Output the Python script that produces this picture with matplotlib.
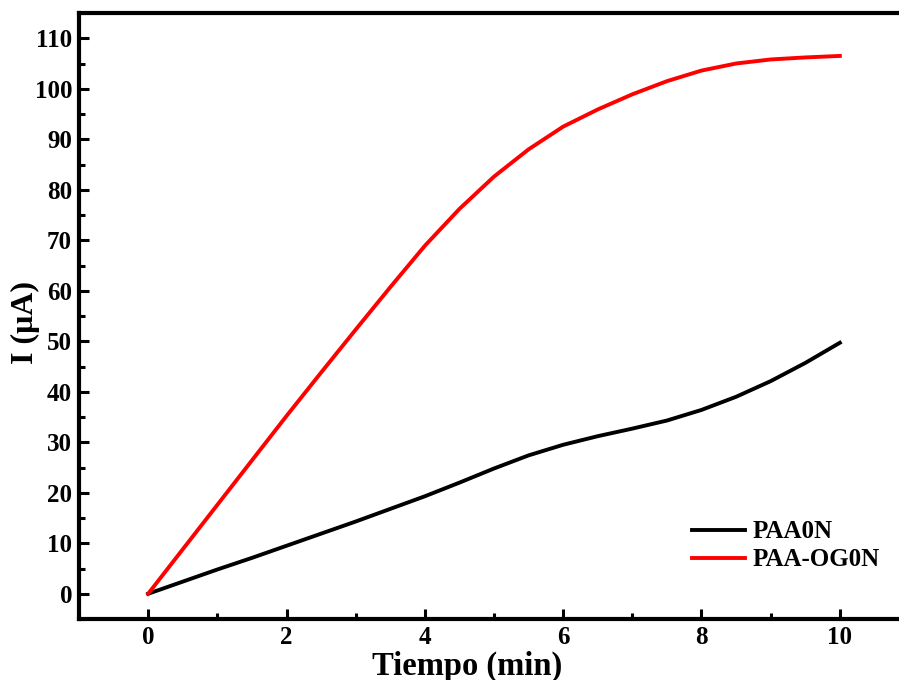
import numpy as np
import matplotlib.pyplot as plt
from matplotlib.ticker import MultipleLocator

# time (min) and current (uA) for both films
t_min = [0, 0.5, 1, 1.5, 2, 2.5, 3, 3.5, 4, 4.5, 5, 5.5, 6, 6.5, 7, 7.5, 8, 8.5, 9, 9.5, 10]
i_paa0n = [0, 2.4, 4.8, 7.1, 9.5, 11.9, 14.3, 16.8, 19.3, 22.0, 24.8, 27.4, 29.5, 31.2, 32.7, 34.3, 36.4, 39.0, 42.1, 45.7, 49.7]
i_paa_og0n = [0, 8.8, 17.6, 26.4, 35.2, 43.8, 52.3, 60.7, 68.9, 76.2, 82.6, 88.0, 92.5, 95.9, 98.9, 101.5, 103.6, 105.0, 105.8, 106.2, 106.5]

plt.rcParams['font.family'] = 'Liberation Serif'
plt.rcParams['font.weight'] = 'bold'

fig = plt.figure(figsize=(8.99, 6.80), dpi=100)
ax = fig.add_axes([79 / 899, 61 / 680, 830 / 899, 606 / 680])

ax.plot(t_min, i_paa0n, color='black', lw=2.8, label='PAA0N', solid_joinstyle='round')
ax.plot(t_min, i_paa_og0n, color='red', lw=2.8, label='PAA-OG0N', solid_joinstyle='round')

ax.set_xlim(-1, 11)
ax.set_ylim(-5, 115)
ax.xaxis.set_major_locator(MultipleLocator(2))
ax.xaxis.set_minor_locator(MultipleLocator(1))
ax.yaxis.set_major_locator(MultipleLocator(10))
ax.yaxis.set_minor_locator(MultipleLocator(5))

for s in ax.spines.values():
    s.set_linewidth(3)
ax.tick_params(which='major', direction='in', length=7.5, width=2.2, labelsize=18, pad=5)
ax.tick_params(which='minor', direction='in', length=4, width=2.2)
ax.tick_params(top=False, right=False, which='both')

ax.set_xlabel('Tiempo (min)', fontsize=23.5, fontweight='bold')
ax.xaxis.set_label_coords(0.4675, -0.052, transform=ax.transAxes)
ax.xaxis.label.set_va('top')
ax.set_ylabel('I (μA)', fontsize=23, fontweight='bold')
ax.yaxis.set_label_coords(-0.047, (1 - 322 / 680 - 61 / 680) / (606 / 680))

leg = ax.legend(loc='upper left', bbox_to_anchor=(679 / 899, 1 - 508 / 680),
                bbox_transform=fig.transFigure, frameon=False, fontsize=18,
                borderpad=0, handlelength=2.15, handletextpad=0.3, labelspacing=0.2)
for line in leg.get_lines():
    line.set_linewidth(2.8)

fig.savefig('out.png', dpi=100)
